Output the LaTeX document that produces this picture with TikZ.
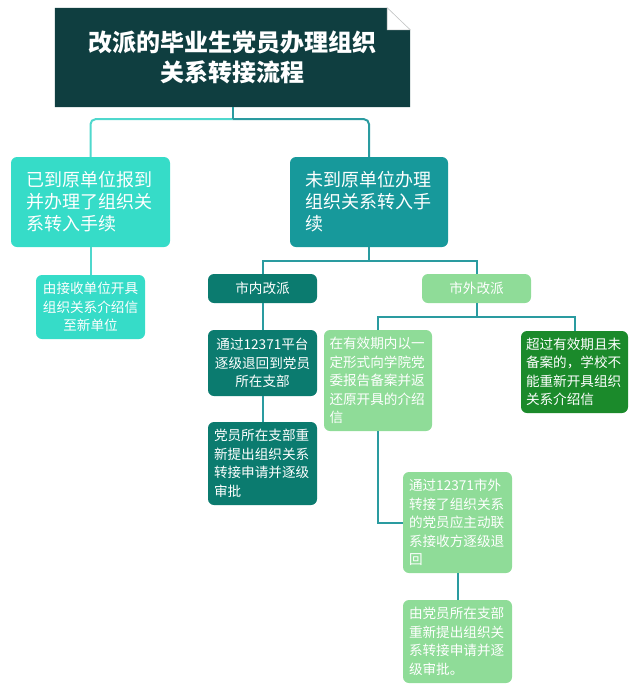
\documentclass[tikz,border=0pt]{standalone}
\usepackage{fontspec}
\setmainfont{Noto Sans CJK SC}
\usepackage{tikz}
\usetikzlibrary{backgrounds}
\definecolor{titlebg}{HTML}{0F3E40}
\definecolor{turq}{HTML}{36DCC8}
\definecolor{teal1}{HTML}{17999B}
\definecolor{teal2}{HTML}{0B7B6F}
\definecolor{lgreen}{HTML}{8FDC98}
\definecolor{dgreen}{HTML}{1B8A2B}
\definecolor{lineteal}{HTML}{2A9BA0}
\definecolor{lineturq}{HTML}{4FD8CD}
\tikzset{box/.style={rounded corners=6pt, text=white, inner sep=0pt},
  bigbox/.style={box, minimum width=159pt, minimum height=90pt, text width=127pt, align=left,
    font=\fontsize{18}{22}\selectfont},
  smallbox/.style={box, minimum width=109pt, text width=97pt,
    font=\fontsize{13.6}{18.5}\selectfont},
  link/.style={draw=lineteal, line width=2pt}}

\begin{document}
\begin{tikzpicture}[x=1pt,y=-1pt]
\useasboundingbox (0,0) rectangle (641,694);
\node[text=white, inner sep=0pt, minimum width=355pt, minimum height=99pt, align=center,
  font=\bfseries\fontsize{24}{30}\selectfont] (title) at (232.5,57.5)
  {改派的毕业生党员办理组织\\关系转接流程};
\begin{scope}[on background layer]
\fill[titlebg] (title.north west) -- ([xshift=-23pt]title.north east)
  -- ([yshift=-22pt]title.north east) -- (title.south east) -- (title.south west) -- cycle;
\filldraw[fill=white, draw=gray!40, line width=0.6pt] ([xshift=-23pt]title.north east)
  -- ([xshift=-23pt,yshift=-22pt]title.north east) -- ([yshift=-22pt]title.north east) -- cycle;
\end{scope}

\node[bigbox, fill=turq] (L1) at (90.5,202) {已到原单位报到\\并办理了组织关\\系转入手续};
\node[bigbox, fill=teal1, minimum width=158pt] (R1) at (369,202) {未到原单位办理\\组织关系转入手\\续};

\node[smallbox, fill=turq, minimum height=64pt, align=center] (L1-1) at (90.5,307)
  {由接收单位开具\\组织关系介绍信\\至新单位};

\node[smallbox, fill=teal2, minimum height=29pt, align=center] (R1-1) at (262.5,288.5) {市内改派};
\node[smallbox, fill=lgreen, minimum height=29pt, align=center] (R1-2) at (476.5,288.5) {市外改派};

\node[smallbox, fill=teal2, minimum height=66pt, align=center] (R1-1-1) at (262.5,363)
  {通过12371平台\\逐级退回到党员\\所在支部};
\node[smallbox, fill=teal2, minimum height=83pt, align=left] (R1-1-2) at (262.5,463.5)
  {党员所在支部重\\新提出组织关系\\转接申请并逐级\\审批};

\node[smallbox, fill=lgreen, minimum width=108pt, minimum height=101pt, align=left] (R1-2-1) at (378,380.5)
  {在有效期内以一\\定形式向学院党\\委报告备案并返\\还原开具的介绍\\信};
\node[smallbox, fill=dgreen, minimum width=107pt, minimum height=82pt, align=left] (R1-2-2) at (574.5,372)
  {超过有效期且未\\备案的，学校不\\能重新开具组织\\关系介绍信};

\node[smallbox, fill=lgreen, minimum height=101pt, align=left] (R1-2-1-1) at (457.5,522.5)
  {通过12371市外\\转接了组织关系\\的党员应主动联\\系接收方逐级退\\回};
\node[smallbox, fill=lgreen, minimum height=83pt, align=left] (R1-2-1-2) at (457.5,641.5)
  {由党员所在支部\\重新提出组织关\\系转接申请并逐\\级审批。};

% connectors
\coordinate (j0) at ([yshift=-12pt]title.south);
\coordinate (j1) at ([yshift=-14pt]R1.south);
\coordinate (j2) at ([yshift=-14pt]R1-2.south);
\draw[link, draw=lineturq, rounded corners=5pt] (j0) -| (L1.north);
\draw[link, rounded corners=5pt] (j0) -| (R1.north);
\draw[link] (title.south) -- (j0);
\draw[link, draw=lineturq] (L1.south) -- (L1-1.north);
\draw[link] (R1.south) -- (j1);
\draw[link] (j1) -| (R1-1.north);
\draw[link] (j1) -| (R1-2.north);
\draw[link] (R1-1.south) -- (R1-1-1.north);
\draw[link] (R1-1-1.south) -- (R1-1-2.north);
\draw[link] (R1-2.south) -- (j2);
\draw[link] (j2) -| (R1-2-1.north);
\draw[link] (j2) -| (R1-2-2.north);
\draw[link] (R1-2-1.south) |- (R1-2-1-1.west);
\draw[link] (R1-2-1-1.south) -- (R1-2-1-2.north);
\end{tikzpicture}
\end{document}
